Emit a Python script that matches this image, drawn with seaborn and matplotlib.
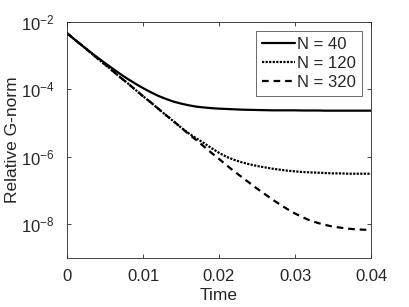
import numpy as np
import pandas as pd
import matplotlib
matplotlib.use("Agg")
import matplotlib.pyplot as plt
import seaborn as sns

zeit = np.round(np.arange(0, 0.04005, 0.001), 3)
log_n40 = [-2.33, -2.52, -2.70, -2.88, -3.05, -3.22, -3.38, -3.54, -3.69, -3.83,
           -3.96, -4.08, -4.19, -4.28, -4.36, -4.42, -4.47, -4.51, -4.535, -4.555,
           -4.57, -4.58, -4.59, -4.60, -4.605, -4.61, -4.615, -4.62, -4.62, -4.62,
           -4.62, -4.625, -4.625, -4.625, -4.63, -4.63, -4.63, -4.63, -4.63, -4.63, -4.63]
log_n120 = [-2.33, -2.52, -2.70, -2.89, -3.08, -3.26, -3.45, -3.64, -3.82, -4.01,
            -4.20, -4.38, -4.57, -4.76, -4.94, -5.13, -5.30, -5.45, -5.59, -5.74,
            -5.88, -6.00, -6.09, -6.16, -6.22, -6.27, -6.31, -6.35, -6.38, -6.41,
            -6.43, -6.45, -6.46, -6.47, -6.48, -6.49, -6.49, -6.50, -6.50, -6.50, -6.50]
log_n320 = [-2.33, -2.52, -2.70, -2.89, -3.08, -3.26, -3.45, -3.64, -3.82, -4.01,
            -4.20, -4.38, -4.57, -4.76, -4.94, -5.13, -5.32, -5.50, -5.69, -5.88,
            -6.06, -6.25, -6.43, -6.60, -6.77, -6.94, -7.10, -7.26, -7.41, -7.55,
            -7.68, -7.79, -7.89, -7.96, -8.02, -8.07, -8.10, -8.13, -8.15, -8.16, -8.17]
labels = ["N = 40", "N = 120", "N = 320"]
stile = ["-", (0, (1, 0.6)), (0, (3, 2.2))]

sns.set_style("ticks")
plt.rcParams["font.family"] = ["Liberation Sans", "DejaVu Sans"]
plt.rcParams["mathtext.fontset"] = "custom"
plt.rcParams["mathtext.rm"] = "Liberation Sans"
plt.rcParams["mathtext.it"] = "Liberation Sans"

fig = plt.figure(figsize=(4.09, 3.07), dpi=100)
ax = fig.add_axes([67/409, 49/307, 304/409, 236/307])

for werte, lab, ls in zip([log_n40, log_n120, log_n320], labels, stile):
    df = pd.DataFrame({"Time": zeit, "G": 10.0 ** np.array(werte)})
    sns.lineplot(data=df, x="Time", y="G", ax=ax, color="black", linewidth=1.6,
                 linestyle=ls, label=lab)

ax.set_yscale("log")
ax.set_xlim(0, 0.04)
ax.set_ylim(1e-9, 1e-2)
ax.set_xticks([0, 0.01, 0.02, 0.03, 0.04])
ax.set_xticklabels(["0", "0.01", "0.02", "0.03", "0.04"])
ax.set_yticks([1e-8, 1e-6, 1e-4, 1e-2])
ax.yaxis.set_minor_locator(matplotlib.ticker.NullLocator())
ax.tick_params(direction="in", top=True, right=True, labelsize=12, length=3,
               color="#262626", width=0.6)
ax.tick_params(axis="x", pad=8)
ax.tick_params(axis="y", pad=9)
for s in ax.spines.values():
    s.set_color("#262626")
    s.set_linewidth(0.6)
ax.set_xlabel("Time", fontsize=12.5, labelpad=3)
ax.set_ylabel("Relative G-norm", fontsize=12.5, labelpad=1)

leg = ax.legend(loc="upper right", fontsize=12, handlelength=2.0, handletextpad=0.1,
                borderaxespad=0.55, fancybox=False, frameon=True, labelspacing=0.25,
                borderpad=0.35)
leg.get_frame().set_edgecolor("#262626")
leg.get_frame().set_linewidth(0.6)

fig.savefig("out.png", dpi=100)
